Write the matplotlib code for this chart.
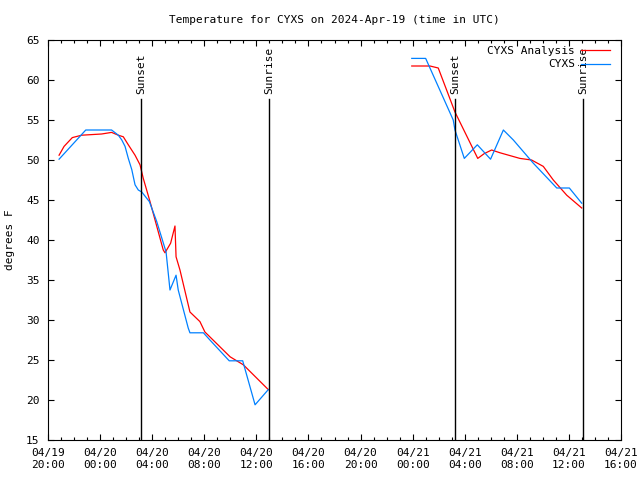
# CYXS temperature plot (gnuplot look)

import pandas as pd
import matplotlib
import matplotlib.pyplot as plt
import matplotlib.dates as mdates

matplotlib.use('Agg')
plt.rcParams['font.family'] = ['DejaVu Sans Mono']

# observed temps (CYXS), two pieces with a gap between them
obs1_times = ["2024-04-19 20:51", "2024-04-19 22:54", "2024-04-20 00:53", "2024-04-20 01:24",
              "2024-04-20 01:40", "2024-04-20 01:55", "2024-04-20 02:10", "2024-04-20 02:26",
              "2024-04-20 02:41", "2024-04-20 02:56", "2024-04-20 03:12", "2024-04-20 03:47",
              "2024-04-20 04:21", "2024-04-20 05:04", "2024-04-20 05:22", "2024-04-20 05:50",
              "2024-04-20 06:00", "2024-04-20 06:46", "2024-04-20 06:54", "2024-04-20 07:56",
              "2024-04-20 08:26", "2024-04-20 09:55", "2024-04-20 10:57", "2024-04-20 11:54",
              "2024-04-20 12:55"]
obs1_temps = [50.1, 53.75, 53.75, 53.1, 52.5, 51.7, 50.2, 48.8, 46.9, 46.25, 46.0, 44.8,
              42.3, 38.5, 33.75, 35.6, 33.75, 29.0, 28.4, 28.4, 27.5, 24.9, 24.9, 19.4, 21.3]

obs2_times = ["2024-04-20 23:56", "2024-04-21 01:00", "2024-04-21 03:07", "2024-04-21 03:15",
              "2024-04-21 03:58", "2024-04-21 04:58", "2024-04-21 05:59", "2024-04-21 06:58",
              "2024-04-21 07:44", "2024-04-21 09:16", "2024-04-21 11:04", "2024-04-21 12:02",
              "2024-04-21 12:59"]
obs2_temps = [62.7, 62.7, 55.0, 53.75, 50.2, 51.9, 50.1, 53.75, 52.5, 49.6, 46.5, 46.5, 44.6]

# analysis temps
ana1_times = ["2024-04-19 20:51", "2024-04-19 21:14", "2024-04-19 21:52", "2024-04-19 22:35",
              "2024-04-20 00:07", "2024-04-20 00:53", "2024-04-20 01:24", "2024-04-20 01:47",
              "2024-04-20 02:10", "2024-04-20 02:41", "2024-04-20 03:04", "2024-04-20 03:19",
              "2024-04-20 03:50", "2024-04-20 04:51", "2024-04-20 04:59", "2024-04-20 05:25",
              "2024-04-20 05:45", "2024-04-20 05:50", "2024-04-20 06:08", "2024-04-20 06:54",
              "2024-04-20 07:40", "2024-04-20 08:03", "2024-04-20 09:59", "2024-04-20 11:00",
              "2024-04-20 12:55"]
ana1_temps = [50.6, 51.7, 52.8, 53.1, 53.25, 53.45, 53.1, 52.9, 51.9, 50.6, 49.4, 47.7,
              44.8, 38.75, 38.4, 39.6, 41.75, 37.9, 36.25, 31.0, 29.8, 28.5, 25.4, 24.4, 21.3]

ana2_times = ["2024-04-20 23:56", "2024-04-21 01:20", "2024-04-21 01:58", "2024-04-21 03:15",
              "2024-04-21 05:00", "2024-04-21 05:30", "2024-04-21 06:04", "2024-04-21 06:43",
              "2024-04-21 08:14", "2024-04-21 09:08", "2024-04-21 10:02", "2024-04-21 10:48",
              "2024-04-21 11:50", "2024-04-21 12:59"]
ana2_temps = [61.75, 61.75, 61.5, 56.0, 50.2, 50.8, 51.25, 50.9, 50.2, 50.0, 49.2, 47.5,
              45.6, 44.0]

sun_times = ["2024-04-20 03:08", "2024-04-20 12:58", "2024-04-21 03:15", "2024-04-21 13:04"]
sun_labels = ["Sunset", "Sunrise", "Sunset", "Sunrise"]

RED = '#ff0000'
BLUE = '#0080ff'

fig = plt.figure(figsize=(6.4, 4.8), dpi=100)
ax = fig.add_axes([48 / 640, 40 / 480, 573 / 640, 400 / 480])

ax.plot(pd.to_datetime(ana1_times), ana1_temps, color=RED, lw=0.9, label="CYXS Analysis")
ax.plot(pd.to_datetime(ana2_times), ana2_temps, color=RED, lw=0.9)
ax.plot(pd.to_datetime(obs1_times), obs1_temps, color=BLUE, lw=0.9, label="CYXS")
ax.plot(pd.to_datetime(obs2_times), obs2_temps, color=BLUE, lw=0.9)

for t, lab in zip(pd.to_datetime(sun_times), sun_labels):
    ax.plot([t, t], [15, 57.6], color='black', lw=1.0)
    ax.text(t, 58.3, lab, rotation=90, ha='center', va='bottom', fontsize=8)

ax.set_xlim(pd.Timestamp("2024-04-19 20:00"), pd.Timestamp("2024-04-21 16:00"))
ax.set_ylim(15, 65)
ax.set_yticks(range(15, 66, 5))

ax.xaxis.set_major_locator(mdates.HourLocator(byhour=[0, 4, 8, 12, 16, 20]))
ax.xaxis.set_minor_locator(mdates.HourLocator())
ax.xaxis.set_major_formatter(mdates.DateFormatter('%m/%d\n%H:%M'))

ax.tick_params(which='both', direction='in', top=True, right=True, labelsize=8, pad=6)
ax.tick_params(which='major', length=4, width=0.8)
ax.tick_params(which='minor', length=2.2, width=0.8)
for s in ax.spines.values():
    s.set_linewidth(0.8)

ax.set_title("Temperature for CYXS on 2024-Apr-19 (time in UTC)", fontsize=8, pad=12)
ax.set_ylabel("degrees F", fontsize=8, labelpad=8)

ax.legend(loc='upper right', bbox_to_anchor=(610 / 640, 1 - 45.5 / 480),
          bbox_transform=fig.transFigure, markerfirst=False, frameon=False, fontsize=8,
          handlelength=2.6, borderaxespad=0.0, borderpad=0.0, labelspacing=0.35,
          handletextpad=0.55)

fig.savefig("out.png", dpi=100)
